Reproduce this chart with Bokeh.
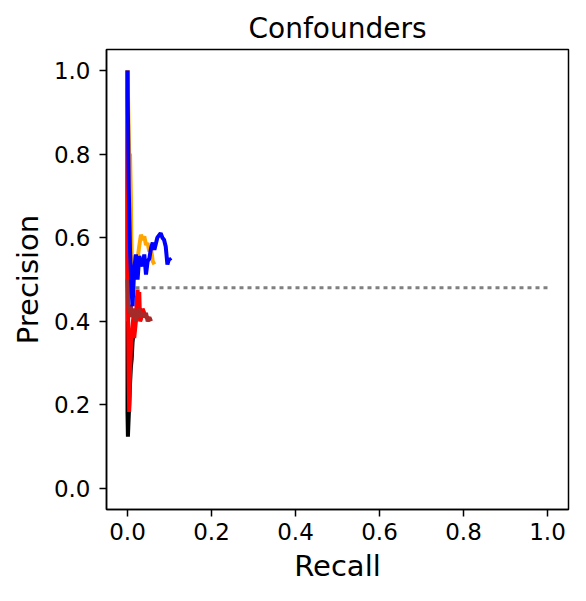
from bokeh.plotting import figure
from bokeh.models import FixedTicker, PrintfTickFormatter, Range1d
from bokeh.embed import file_html
from bokeh.resources import INLINE

# ---- data ----
baseline_recall = [0.0, 1.0]
baseline_precision = [0.48, 0.48]

black_recall = [0.0, 0.0, 0.001, 0.002, 0.004, 0.006, 0.008, 0.010, 0.012, 0.014, 0.016]
black_precision = [1.0, 0.18, 0.124, 0.15, 0.20, 0.25, 0.29, 0.31, 0.35, 0.37, 0.39]

gray_recall = [0.0, 0.0]
gray_precision = [0.48, 0.40]

red_recall = [0.0, 0.0, 0.001, 0.002, 0.003, 0.004, 0.005, 0.006, 0.008, 0.010, 0.012,
              0.014, 0.016, 0.020, 0.022, 0.024, 0.026, 0.028, 0.030, 0.032, 0.036,
              0.040, 0.044, 0.048, 0.052]
red_precision = [1.0, 0.55, 0.45, 0.35, 0.25, 0.183, 0.22, 0.28, 0.33, 0.37, 0.39,
                 0.41, 0.36, 0.40, 0.45, 0.476, 0.44, 0.47, 0.40, 0.405, 0.43,
                 0.42, 0.41, 0.41, 0.40]

brown_recall = [0.0, 0.002, 0.004, 0.006, 0.008, 0.010, 0.012, 0.016, 0.020, 0.024, 0.028,
                0.032, 0.036, 0.040, 0.044, 0.048, 0.052, 0.056]
brown_precision = [0.5, 0.44, 0.42, 0.43, 0.44, 0.41, 0.42, 0.43, 0.40, 0.42, 0.43,
                   0.41, 0.42, 0.41, 0.42, 0.40, 0.41, 0.40]

orange_recall = [0.0, 0.004, 0.006, 0.008, 0.009, 0.010, 0.012, 0.016, 0.020, 0.024, 0.028,
                 0.032, 0.036, 0.040, 0.044, 0.048, 0.052, 0.056, 0.060, 0.064]
orange_precision = [1.0, 0.8, 0.8, 0.7, 0.6, 0.56, 0.54, 0.53, 0.52, 0.55, 0.58,
                    0.607, 0.595, 0.603, 0.583, 0.587, 0.567, 0.575, 0.544, 0.536]

blue_recall = [0.0, 0.001, 0.002, 0.003, 0.004, 0.005, 0.006, 0.008, 0.010, 0.012, 0.016,
               0.020, 0.024, 0.028, 0.032, 0.036, 0.040, 0.044, 0.048, 0.052, 0.056,
               0.060, 0.064, 0.071, 0.079, 0.083, 0.087, 0.091, 0.095, 0.099, 0.103]
blue_precision = [1.0, 0.9, 0.8, 0.72, 0.67, 0.62, 0.57, 0.52, 0.47, 0.436, 0.524,
                  0.56, 0.50, 0.556, 0.54, 0.532, 0.560, 0.512, 0.544, 0.55, 0.575,
                  0.588, 0.571, 0.6, 0.611, 0.60, 0.595, 0.579, 0.536, 0.55, 0.545]

ticks = [0.0, 0.2, 0.4, 0.6, 0.8, 1.0]

FONT = "DejaVu Sans"

p = figure(width=570, height=585, output_backend="svg", toolbar_location=None,
           x_range=Range1d(-0.05, 1.05), y_range=Range1d(-0.05, 1.05),
           title="Confounders")
p.min_border_left = 106
p.min_border_right = 2
p.min_border_top = 49
p.min_border_bottom = 74

p.background_fill_color = "white"
p.border_fill_color = "white"
p.outline_line_color = "black"
p.outline_line_width = 1.5
p.xgrid.visible = False
p.ygrid.visible = False

p.title.text_font = FONT
p.title.text_font_size = "28px"
p.title.text_font_style = "normal"
p.title.align = "center"
p.title.text_color = "black"
p.title.standoff = 9

for ax in (p.xaxis[0], p.yaxis[0]):
    ax.ticker = FixedTicker(ticks=ticks)
    ax.formatter = PrintfTickFormatter(format="%.1f")
    ax.major_label_text_font = FONT
    ax.major_label_text_font_size = "23px"
    ax.major_label_text_color = "black"
    ax.axis_label_text_font = FONT
    ax.axis_label_text_font_size = "29px"
    ax.axis_label_text_font_style = "normal"
    ax.axis_label_text_color = "black"
    ax.major_tick_out = 7
    ax.major_tick_in = 0
    ax.minor_tick_out = 0
    ax.minor_tick_in = 0
    ax.major_tick_line_width = 1.5
    ax.axis_line_width = 1.5
    ax.axis_line_color = "black"

p.xaxis.major_label_standoff = 6
p.xaxis.axis_label_standoff = 6
p.yaxis.major_label_standoff = 9
p.yaxis.axis_label_standoff = 6

p.xaxis.axis_label = "Recall"
p.yaxis.axis_label = "Precision"

LW = 4
p.line(baseline_recall, baseline_precision, line_color="gray", line_width=3, line_dash="4 4")
p.line(black_recall, black_precision, line_color="black", line_width=LW)
p.line(gray_recall, gray_precision, line_color="gray", line_width=LW)
p.line(red_recall, red_precision, line_color="red", line_width=LW)
p.line(brown_recall, brown_precision, line_color="brown", line_width=LW)
p.line(orange_recall, orange_precision, line_color="orange", line_width=LW)
p.line(blue_recall, blue_precision, line_color="blue", line_width=LW)

open("out.html", "w").write(file_html(p, INLINE))
